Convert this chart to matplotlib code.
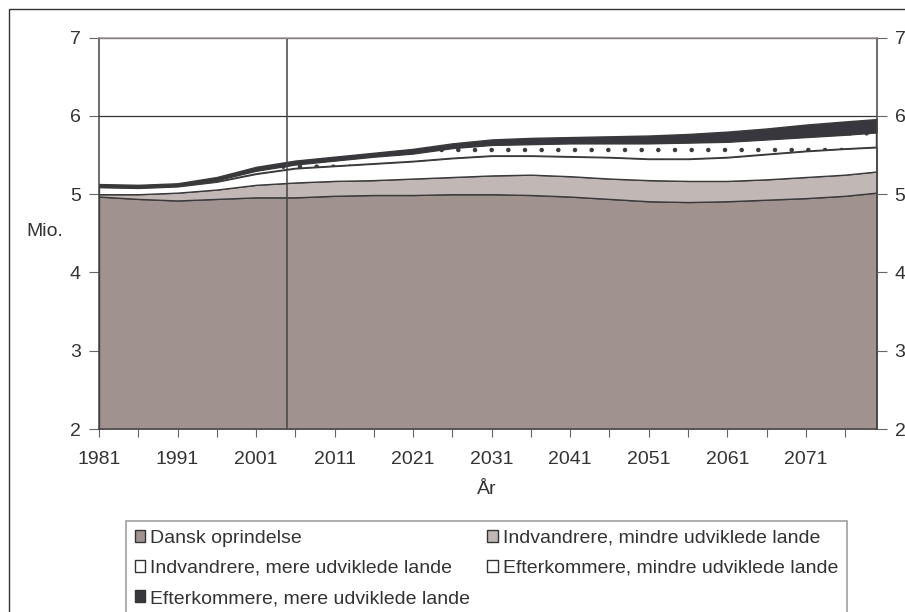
import matplotlib
matplotlib.use("Agg")
import matplotlib.pyplot as plt
from matplotlib.patches import Patch, Rectangle

plt.rcParams['font.family'] = ['Liberation Sans', 'DejaVu Sans']
plt.rcParams['hatch.color'] = '#333333'
plt.rcParams['hatch.linewidth'] = 0.8

# Data (mio. personer)
years = [1981, 1986, 1991, 1996, 2001, 2006, 2011, 2016, 2021, 2026, 2031,
         2036, 2041, 2046, 2051, 2056, 2061, 2066, 2071, 2076, 2080]
dansk = [4.97, 4.94, 4.92, 4.94, 4.96, 4.96, 4.98, 4.99, 4.99, 5.00, 5.00,
         4.99, 4.97, 4.94, 4.91, 4.90, 4.91, 4.93, 4.95, 4.98, 5.02]
indv_mindre = [0.03, 0.06, 0.10, 0.12, 0.16, 0.19, 0.19, 0.19, 0.21, 0.22, 0.24,
               0.26, 0.26, 0.26, 0.27, 0.27, 0.26, 0.26, 0.27, 0.27, 0.27]
indv_mere = [0.09, 0.08, 0.08, 0.10, 0.14, 0.18, 0.19, 0.21, 0.22, 0.24, 0.25,
             0.24, 0.25, 0.27, 0.27, 0.28, 0.30, 0.32, 0.33, 0.33, 0.31]
eft_mindre = [0.01, 0.01, 0.01, 0.02, 0.04, 0.05, 0.07, 0.09, 0.10, 0.13, 0.14,
              0.15, 0.17, 0.18, 0.20, 0.21, 0.20, 0.19, 0.18, 0.18, 0.19]
eft_mere = [0.03, 0.03, 0.03, 0.04, 0.05, 0.05, 0.05, 0.05, 0.06, 0.06, 0.07,
            0.08, 0.08, 0.09, 0.10, 0.11, 0.13, 0.14, 0.16, 0.17, 0.17]

labels = ["Dansk oprindelse",
          "Indvandrere, mindre udviklede lande",
          "Indvandrere, mere udviklede lande",
          "Efterkommere, mindre udviklede lande",
          "Efterkommere, mere udviklede lande"]
colors = ['#a0938f', '#c1b7b4', '#ffffff', '#ffffff', '#38373d']
hatches = [None, None, None, '.', None]

xticks = list(range(1981, 2080, 5))
xlabels = [str(y) if (y - 1981) % 10 == 0 else '' for y in xticks]
proj_start = 2005

txt = '#333333'
fs = 14
fig = plt.figure(figsize=(9.05, 6.12), dpi=100)
ax = fig.add_axes([99 / 905, 1 - 429 / 612, 777.5 / 905, 391.3 / 612])

ax.set_axisbelow(True)
ax.yaxis.grid(True, color='#333333', linewidth=0.9)
polys = ax.stackplot(years, dansk, indv_mindre, indv_mere, eft_mindre, eft_mere,
                     colors=colors, edgecolor='#3a3a3a', linewidth=1.0)
for p, h in zip(polys, hatches):
    if h:
        p.set_hatch(h)

ax.axvline(proj_start, color='#444444', linewidth=1.1)

ax.set_xlim(1981, 2080)
ax.set_ylim(2, 7)
ax.set_xticks(xticks)
ax.set_xticklabels(xlabels)
ax.set_yticks(range(2, 8))
ax.tick_params(axis='x', direction='out', length=6, pad=10, labelsize=fs,
               colors='#666666', labelcolor=txt)
ax.tick_params(axis='y', direction='out', length=7, pad=6, labelsize=fs,
               colors='#666666', labelcolor=txt)
for s in ['left', 'right', 'bottom']:
    ax.spines[s].set_color('#444444')
    ax.spines[s].set_linewidth(1.1)
ax.spines['top'].set_color('#a09a98')
ax.spines['top'].set_linewidth(1.1)

ax2 = ax.twinx()
ax2.set_ylim(2, 7)
ax2.set_yticks(range(2, 8))
ax2.tick_params(axis='y', direction='out', length=7, pad=6, labelsize=fs,
                colors='#666666', labelcolor=txt)
for s in ax2.spines.values():
    s.set_visible(False)

fig.text(45 / 905, 1 - 232 / 612, "Mio.", ha='center', va='center',
         fontsize=fs, color=txt)
fig.text(487 / 905, 1 - 490 / 612, "År", ha='center', va='center',
         fontsize=fs, color=txt)

# outer frame
fig.patches.append(Rectangle((9 / 905, -0.05), 1.0, 1 - 9 / 612 + 0.05,
                             transform=fig.transFigure, fill=False,
                             edgecolor='#333333', linewidth=1.0))

handles = [Patch(facecolor=c, edgecolor='#333333', label=l)
           for c, l in zip(colors, labels)]
order = [0, 2, 4, 1, 3]
leg = fig.legend([handles[i] for i in order], [labels[i] for i in order],
                 loc='upper left', ncol=2, mode='expand',
                 bbox_to_anchor=(126 / 905, 1 - 521 / 612, 721 / 905, 0.0),
                 fontsize=fs, frameon=True, fancybox=False,
                 handlelength=0.55, handleheight=0.55, handletextpad=0.25,
                 labelspacing=0.68, borderpad=0.45, borderaxespad=0)
leg.get_frame().set_edgecolor('#888888')
leg.get_frame().set_linewidth(1.2)
for t in leg.get_texts():
    t.set_color(txt)

fig.savefig('out.png', dpi=100)
